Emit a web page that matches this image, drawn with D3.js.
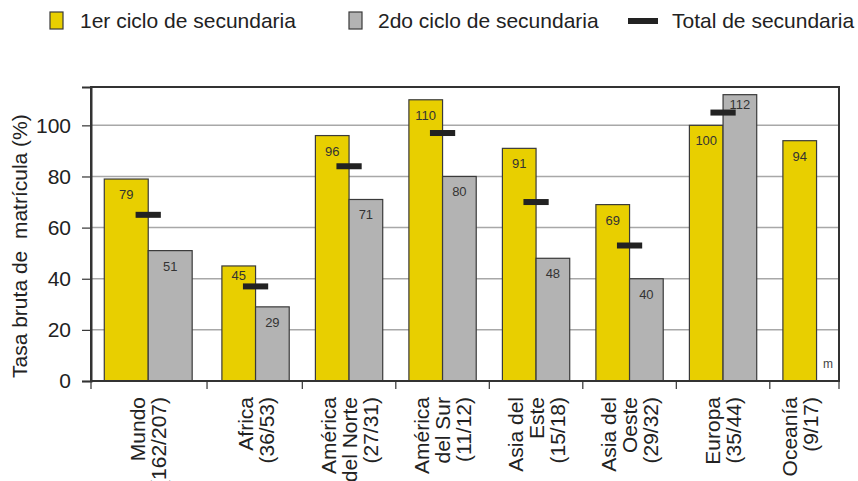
<!DOCTYPE html>
<html>
<head>
<meta charset="utf-8">
<script src="https://cdn.jsdelivr.net/npm/d3@7"></script>
<style>
  html, body { margin: 0; padding: 0; background: #fff; }
  svg { display: block; font-family: "Liberation Sans", Arial, Helvetica, sans-serif; }
</style>
</head>
<body>
<script>
// ---------------- data ----------------
const categories = ["Mundo", "Africa", "América del Norte", "América del Sur", "Asia del Este", "Asia del Oeste", "Europa", "Oceanía"];
const categoryLines = [
  ["Mundo", "(162/207)"],
  ["Africa", "(36/53)"],
  ["América", "del Norte", "(27/31)"],
  ["América", "del Sur", "(11/12)"],
  ["Asia del", "Este", "(15/18)"],
  ["Asia del", "Oeste", "(29/32)"],
  ["Europa", "(35/44)"],
  ["Oceanía", "(9/17)"]
];
const firstCycle  = [79, 45, 96, 110, 91, 69, 100, 94];
const secondCycle = [51, 29, 71, 80, 48, 40, 112, null];
const totalSecondary = [65, 37, 84, 97, 70, 53, 105, null];
const yTicks = [0, 20, 40, 60, 80, 100];
const seriesNames = ["1er ciclo de secundaria", "2do ciclo de secundaria", "Total de secundaria"];
const yTitle = "Tasa bruta de  matrícula (%)";
const missingMark = "m";

// ---------------- layout ----------------
const W = 858, H = 481;
const plot = { left: 91, right: 839, top: 87, bottom: 381 };
const colors = { first: "#E8CF00", second: "#B3B3B3", total: "#222222", stroke: "#3a3a3a", grid: "#a8a8a8", text: "#222" };
const FONT = 21;

const svg = d3.select("body").append("svg").attr("width", W).attr("height", H);

// x: linear scale in "group units"
const x = d3.scaleLinear().domain([0, 8.0]).range([plot.left, plot.right]);
const y = d3.scaleLinear().domain([0, 115]).range([plot.bottom, plot.top]);

// group geometry (units)
function groupStart(i) { return i === 0 ? 0.142 : i + 0.40; }
function barW(i) { return i === 0 ? 0.47 : 0.36; }
function groupEnd(i) { return groupStart(i) + 2 * barW(i); }

// gridlines
svg.append("g").selectAll("line").data(yTicks.filter(d => d > 0)).join("line")
  .attr("x1", plot.left).attr("x2", plot.right)
  .attr("y1", d => y(d)).attr("y2", d => y(d))
  .attr("stroke", colors.grid).attr("stroke-width", 1.5);

// bars
const bars = svg.append("g");
categories.forEach((c, i) => {
  const x0 = x(groupStart(i)), x1 = x(groupStart(i) + barW(i)), x2 = x(groupStart(i) + 2 * barW(i));
  bars.append("rect")
    .attr("x", x0).attr("y", y(firstCycle[i]))
    .attr("width", x1 - x0).attr("height", y(0) - y(firstCycle[i]))
    .attr("fill", colors.first).attr("stroke", colors.stroke).attr("stroke-width", 1.2);
  if (secondCycle[i] != null) {
    bars.append("rect")
      .attr("x", x1).attr("y", y(secondCycle[i]))
      .attr("width", x2 - x1).attr("height", y(0) - y(secondCycle[i]))
      .attr("fill", colors.second).attr("stroke", colors.stroke).attr("stroke-width", 1.2);
  }
});

// value labels
const labels = svg.append("g").attr("font-size", 13).attr("fill", "#333").attr("text-anchor", "middle");
function labelY(v, i) {
  const top = y(v);
  const t = totalSecondary[i];
  if (t != null && y(t) - 3 > top && y(t) - 3 < top + 22) return top + 14;
  return top + 20;
}
categories.forEach((c, i) => {
  const xm1 = x(groupStart(i) + barW(i) / 2);
  labels.append("text").attr("x", xm1).attr("y", labelY(firstCycle[i], i)).text(firstCycle[i]);
  if (secondCycle[i] != null) {
    const xm2 = x(groupStart(i) + 1.5 * barW(i));
    labels.append("text").attr("x", xm2).attr("y", labelY(secondCycle[i], i)).text(secondCycle[i]);
  }
});

// total markers
const markW = 0.27;
svg.append("g").selectAll("rect").data(totalSecondary.map((v, i) => ({ v, i })).filter(d => d.v != null)).join("rect")
  .attr("x", d => x(groupStart(d.i) + barW(d.i) - markW / 2))
  .attr("width", x(markW) - x(0))
  .attr("y", d => y(d.v) - 3).attr("height", 6)
  .attr("fill", colors.total);

// missing mark
svg.append("text")
  .attr("x", x(8.0) - 6).attr("y", y(0) - 13)
  .attr("text-anchor", "end").attr("font-size", 12).attr("fill", "#444")
  .text(missingMark);

// frame
svg.append("rect")
  .attr("x", plot.left).attr("y", plot.top)
  .attr("width", plot.right - plot.left).attr("height", plot.bottom - plot.top)
  .attr("fill", "none").attr("stroke", "#333").attr("stroke-width", 2);

// y axis
const yAxis = svg.append("g").attr("transform", `translate(${plot.left},0)`)
  .call(d3.axisLeft(y).tickValues(yTicks).tickSize(9).tickPadding(11).tickFormat(d3.format("d")));
yAxis.select(".domain").attr("stroke", "#333").attr("stroke-width", 2);
yAxis.selectAll(".tick line").attr("stroke", "#333").attr("stroke-width", 1.2);
yAxis.selectAll(".tick text").attr("font-size", FONT).attr("fill", colors.text)
  .attr("font-family", "'Liberation Sans', Arial, sans-serif");

// x ticks (boundaries between groups + plot edges)
const xTickUnits = [0];
for (let i = 1; i < categories.length; i++) xTickUnits.push((groupEnd(i - 1) + groupStart(i)) / 2);
xTickUnits.push(8.0);
svg.append("g").selectAll("line").data(xTickUnits).join("line")
  .attr("x1", d => x(d)).attr("x2", d => x(d))
  .attr("y1", plot.bottom).attr("y2", plot.bottom + 8)
  .attr("stroke", "#333").attr("stroke-width", 1.2);

// x category labels (rotated, right-aligned at top)
const lineH = 21;
const catG = svg.append("g").attr("font-size", FONT).attr("fill", colors.text);
categoryLines.forEach((lines, i) => {
  const center = secondCycle[i] != null
    ? x(groupStart(i) + barW(i))
    : x(groupStart(i) + barW(i) / 2);
  const n = lines.length;
  lines.forEach((t, k) => {
    const cx = center + (k - (n - 1) / 2) * lineH;
    catG.append("text")
      .attr("transform", `translate(${cx},${plot.bottom + 16}) rotate(-90)`)
      .attr("text-anchor", "end")
      .attr("dy", "0.36em")
      .text(t);
  });
});

// y title
svg.append("text")
  .attr("transform", `translate(27,${plot.bottom - 3}) rotate(-90)`)
  .attr("text-anchor", "start").attr("font-size", FONT).attr("fill", colors.text)
  .attr("xml:space", "preserve")
  .style("white-space", "pre")
  .text(yTitle);

// legend
const leg = svg.append("g").attr("font-size", FONT).attr("fill", colors.text);
leg.append("rect").attr("x", 50).attr("y", 12).attr("width", 13).attr("height", 17)
  .attr("fill", colors.first).attr("stroke", colors.stroke).attr("stroke-width", 1.2);
leg.append("text").attr("x", 80).attr("y", 28).text(seriesNames[0]);
leg.append("rect").attr("x", 349).attr("y", 12).attr("width", 13).attr("height", 17)
  .attr("fill", colors.second).attr("stroke", colors.stroke).attr("stroke-width", 1.2);
leg.append("text").attr("x", 378).attr("y", 28).text(seriesNames[1]);
leg.append("rect").attr("x", 628).attr("y", 18).attr("width", 30).attr("height", 6)
  .attr("fill", colors.total);
leg.append("text").attr("x", 672).attr("y", 28).text(seriesNames[2]);
</script>
</body>
</html>
